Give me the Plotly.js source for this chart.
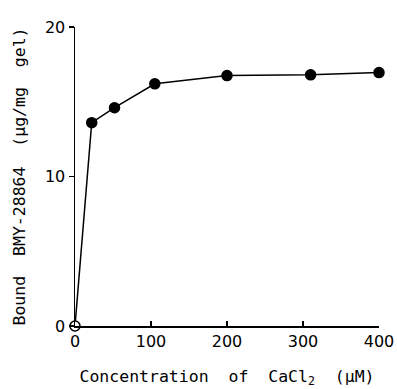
<!DOCTYPE html>
<html>
<head>
<meta charset="utf-8">
<script src="https://cdn.plot.ly/plotly-3.0.1.min.js"></script>
<style>html,body{margin:0;padding:0;background:#fff;}#chart{width:397px;height:389px;}</style>
</head>
<body>
<div id="chart"></div>
<script>
// Data
const concentration = [0, 22, 52, 105, 200, 310, 400];   // CaCl2 (μM)
const bound = [0, 13.6, 14.6, 16.2, 16.75, 16.8, 16.95];  // μg/mg gel
const markerFill = ['white', 'black', 'black', 'black', 'black', 'black', 'black'];
const xTicks = [0, 100, 200, 300, 400];
const yTicks = [0, 10, 20];

const tickFont = {family: 'DejaVu Sans', size: 16, color: '#000'};
const titleFont = {family: 'DejaVu Sans Mono', size: 16.5, color: '#000'};

const trace = {
  x: concentration,
  y: bound,
  mode: 'lines+markers',
  line: {color: '#000', width: 1.5},
  marker: {size: 10, color: markerFill, line: {color: '#000', width: 1.5}},
  cliponaxis: false,
  hoverinfo: 'skip'
};

const layout = {
  width: 397, height: 389,
  margin: {l: 75, r: 18, t: 27, b: 63},
  paper_bgcolor: '#fff', plot_bgcolor: '#fff',
  showlegend: false,
  font: tickFont,
  xaxis: {
    range: [0, 400], tickvals: xTicks, ticktext: xTicks.map(String),
    showgrid: false, zeroline: false, showline: true, linecolor: '#000', linewidth: 1.5,
    ticks: 'inside', ticklen: 5, tickwidth: 1.5, tickcolor: '#000',
    tickfont: tickFont,
    title: {text: 'Concentration  of  CaCl<sub>2</sub>  (μM)', font: titleFont, standoff: 20}
  },
  yaxis: {
    range: [0, 20], tickvals: yTicks, ticktext: yTicks.map(String),
    showgrid: false, zeroline: false, showline: true, linecolor: '#000', linewidth: 1.5,
    ticks: 'outside', ticklen: 5, tickwidth: 1.5, tickcolor: '#000',
    tickfont: tickFont,
    title: {text: 'Bound  BMY-28864  (μg/mg  gel)', font: titleFont, standoff: 15}
  }
};

Plotly.newPlot('chart', [trace], layout, {displayModeBar: false, staticPlot: true});
</script>
</body>
</html>
